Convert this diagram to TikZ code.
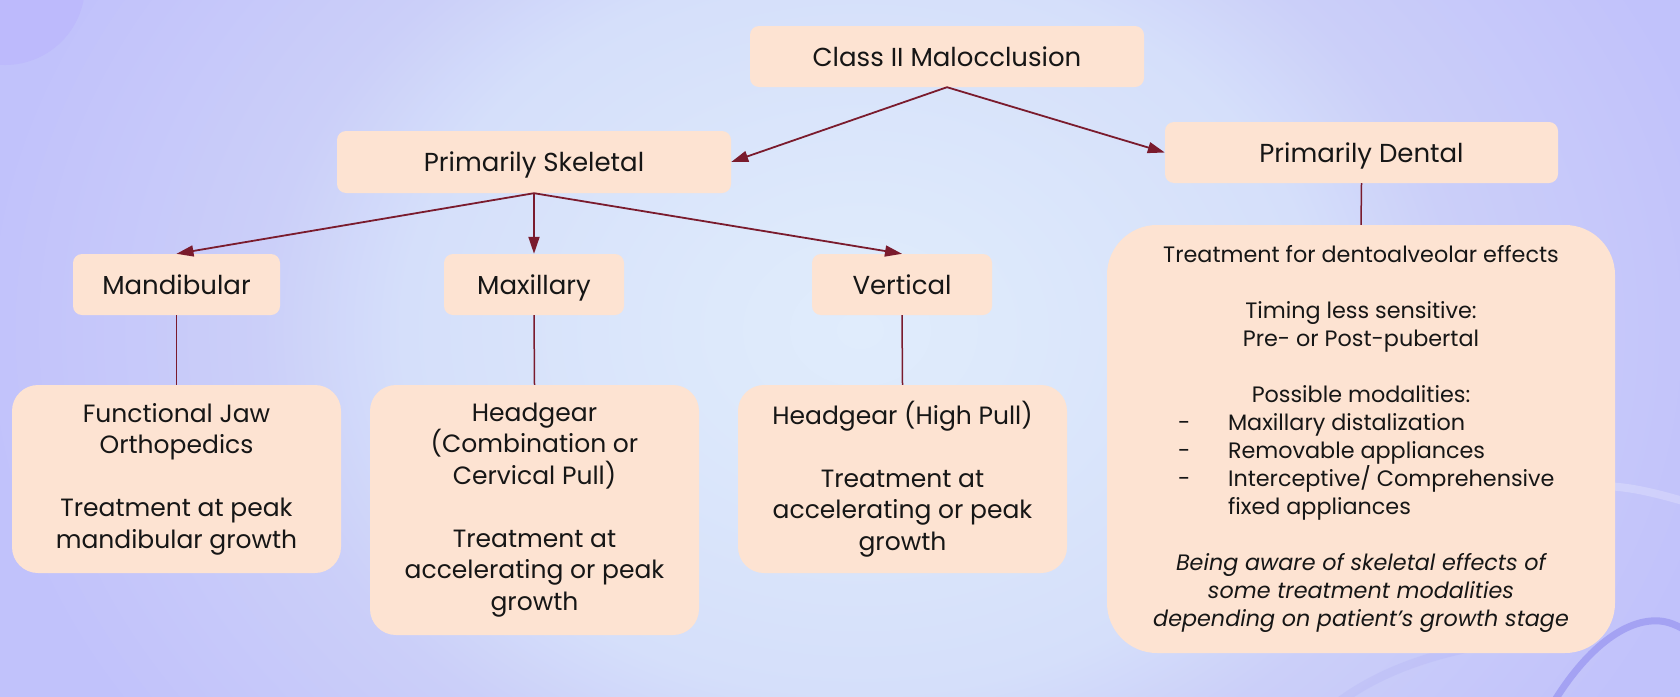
\documentclass[tikz,border=0pt]{standalone}
\usepackage{fontspec}
\setmainfont{Poppins}
\usetikzlibrary{arrows.meta}
\definecolor{cA}{HTML}{E0ECFC}
\definecolor{cB}{HTML}{DDE9FB}
\definecolor{cC}{HTML}{D5DFFA}
\definecolor{cD}{HTML}{CBCFF9}
\definecolor{cE}{HTML}{C4C5FA}
\definecolor{cF}{HTML}{C1C2FB}
\pgfdeclareradialshading{bgshade}{\pgfpoint{0bp}{0bp}}{color(0bp)=(cA); color(4bp)=(cB); color(13bp)=(cC); color(17bp)=(cD); color(23bp)=(cE); color(25bp)=(cF); color(50bp)=(cF)}
\definecolor{peach}{HTML}{FDE3D2}
\definecolor{wine}{HTML}{7A1B2D}
\definecolor{deco}{HTML}{A4A2F3}
\definecolor{circ}{HTML}{BDBAFC}
\definecolor{txt}{HTML}{161616}
\begin{document}
\begin{tikzpicture}[x=1pt,y=-1pt,
  hbox/.style={fill=peach, rounded corners=9pt, inner sep=0pt, text=txt,
    text depth=0pt, font=\fontsize{26}{30}\selectfont},
  lbox/.style={fill=peach, rounded corners=26pt, inner sep=0pt, text=txt,
    align=center, minimum width=329pt, font=\fontsize{25}{31.5}\selectfont},
  rbox/.style={fill=peach, rounded corners=50pt, inner sep=0pt, text=txt,
    align=center, font=\fontsize{22.3}{28}\selectfont},
  arr/.style={draw=wine, line width=1.8pt, -{Triangle[length=17pt,width=11pt]}},
  ln/.style={draw=wine, line width=1.5pt},
  decoline/.style={draw=deco, line width=7pt, line cap=round},
  faint/.style={draw=white, opacity=0.22, line width=8pt, line cap=round},
  faintp/.style={draw=deco, opacity=0.18, line width=9pt, line cap=round}]
\useasboundingbox (0,0) rectangle (1680,696);
\shade[shading=bgshade] (-20,-370) rectangle (1740,1030);
% decorations
\fill[circ] (5,-15) circle (80pt);
\draw[faint] (1600,486) .. controls (1630,486) and (1660,494) .. (1700,506);
\draw[faintp] (1335,705) .. controls (1380,670) and (1440,650) .. (1515,640);
\draw[decoline] (1552,705) .. controls (1585,650) and (1625,618) .. (1660,621) .. controls (1672,622) and (1682,628) .. (1695,636);
% nodes
\node[hbox, minimum width=394pt, minimum height=61pt] (cls) at (947,56.5) {Class II Malocclusion};
\node[hbox, minimum width=394pt, minimum height=62pt] (ps) at (534,162) {Primarily Skeletal};
\node[hbox, minimum width=393pt, minimum height=61pt] (pd) at (1361.5,152.5) {Primarily Dental};
\node[hbox, minimum width=207pt, minimum height=61pt] (mand) at (176.5,284.5) {Mandibular};
\node[hbox, minimum width=180pt, minimum height=61pt] (maxi) at (534,284.5) {Maxillary};
\node[hbox, minimum width=180pt, minimum height=61pt] (vert) at (902,284.5) {Vertical};
\node[lbox, minimum height=188pt] (fjo) at (176.5,479)
  {Functional Jaw\\Orthopedics\\\mbox{}\\Treatment at peak\\mandibular growth};
\node[lbox, minimum height=250pt] (hgc) at (534.5,510)
  {Headgear\\(Combination or\\Cervical Pull)\\\mbox{}\\Treatment at\\accelerating or peak\\growth};
\node[lbox, minimum height=188pt] (hgh) at (902.5,479)
  {Headgear (High Pull)\\\mbox{}\\Treatment at\\accelerating or peak\\growth};
\node[rbox, minimum width=508pt, minimum height=428pt] (dent) at (1361,439)
  {Treatment for dentoalveolar effects\\\mbox{}\\
   Timing less sensitive:\\Pre- or Post-pubertal\\\mbox{}\\
   Possible modalities:\\
   \makebox[366pt][l]{\makebox[50pt][l]{-}Maxillary distalization}\\
   \makebox[366pt][l]{\makebox[50pt][l]{-}Removable appliances}\\
   \makebox[366pt][l]{\makebox[50pt][l]{-}Interceptive/ Comprehensive}\\
   \makebox[366pt][l]{\makebox[50pt][l]{}fixed appliances}\\\mbox{}\\
   \itshape Being aware of skeletal effects of\\
   \itshape some treatment modalities\\
   \itshape depending on patient’s growth stage};
% connectors
\draw[arr] (cls.south) -- (ps.east);
\draw[arr] (cls.south) -- (pd.west);
\draw[arr] (ps.south) -- (mand.north);
\draw[arr] (ps.south) -- (maxi.north);
\draw[arr] (ps.south) -- (vert.north);
\draw[ln] (mand.south) -- (fjo.north);
\draw[ln] (maxi.south) -- (hgc.north);
\draw[ln] (vert.south) -- (hgh.north);
\draw[ln] (pd.south) -- (dent.north);
\end{tikzpicture}
\end{document}
